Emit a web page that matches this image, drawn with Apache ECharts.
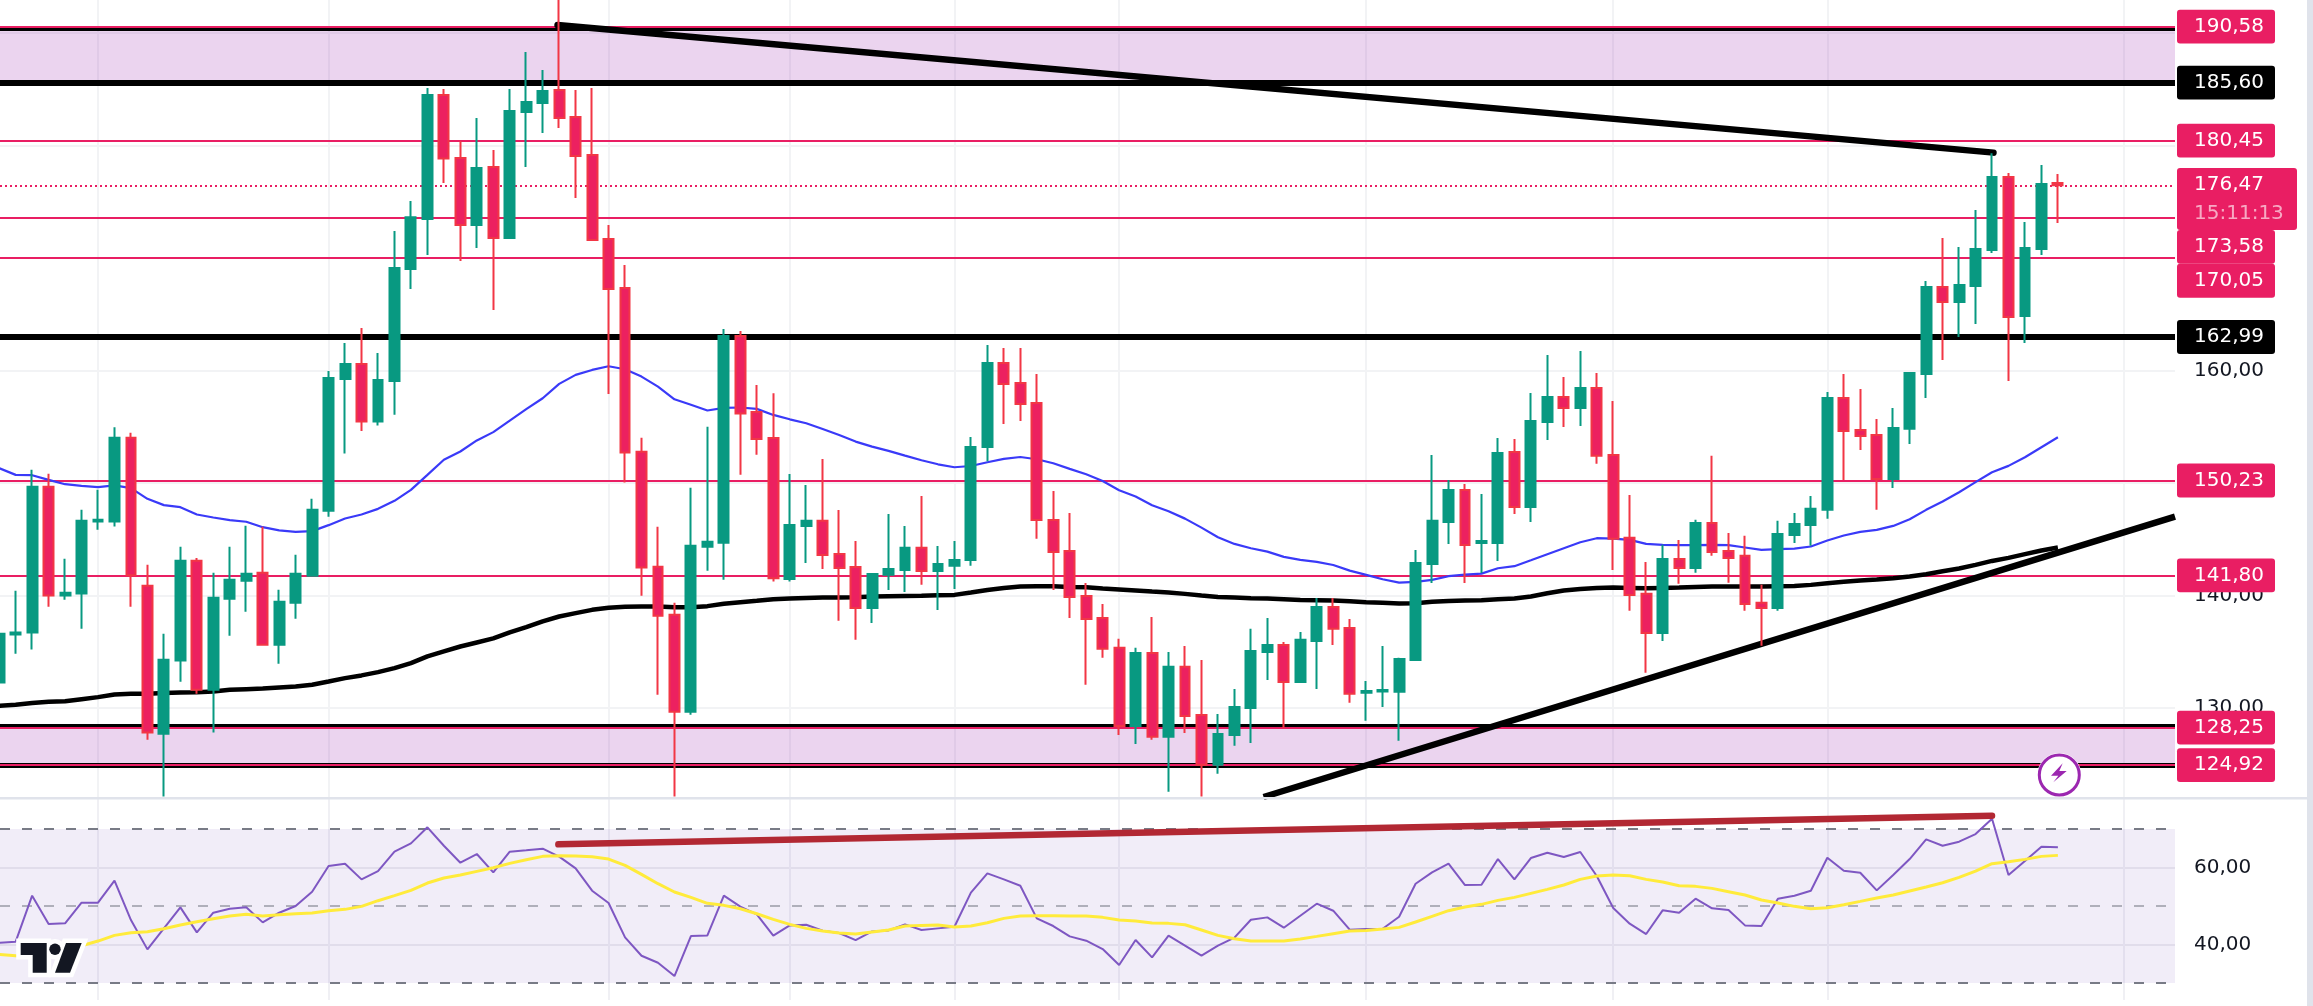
<!DOCTYPE html>
<html>
<head>
<meta charset="utf-8">
<style>html,body{margin:0;padding:0;background:#fff;overflow:hidden}#c{width:2313px;height:1006px}</style>
<script src="https://cdn.jsdelivr.net/npm/echarts@6/dist/echarts.min.js"></script>
</head>
<body>
<div id="c"></div>
<script>
const opens = [132.27,136.54,136.72,149.67,140.01,140.19,146.59,146.59,154.02,140.87,127.71,134.23,143.09,131.62,139.71,141.31,142.02,135.62,139.36,141.76,147.53,159.26,160.59,155.47,159.08,169.04,173.48,184.51,178.91,172.95,178.11,171.79,183.0,183.79,184.95,182.55,179.17,171.71,167.35,152.78,142.56,138.29,129.67,144.33,144.69,163.08,156.33,154.01,141.48,146.19,146.64,143.7,142.55,138.9,141.84,142.28,144.24,142.19,142.64,143.17,153.21,160.68,158.9,157.12,146.72,143.97,139.97,138.01,135.35,128.41,134.9,127.44,133.66,129.39,124.95,127.61,130.01,134.99,135.61,132.32,135.97,138.99,137.12,131.35,131.46,131.44,134.28,142.81,146.55,149.39,144.68,144.68,152.77,147.88,155.44,157.66,156.68,158.46,152.5,145.13,140.15,136.68,143.26,142.46,146.46,143.97,143.53,139.35,138.9,145.39,146.28,147.62,157.57,154.73,154.28,150.37,154.82,159.7,167.44,166.1,167.53,170.73,177.22,164.86,170.82,176.68];
const closes = [136.6,136.72,149.67,140.01,140.24,146.64,146.73,154.02,141.81,127.83,134.29,143.09,131.62,139.8,141.4,141.93,135.62,139.44,141.93,147.62,159.35,160.59,155.47,159.17,169.13,173.63,184.51,178.85,172.95,178.02,171.79,183.08,183.88,184.86,182.46,179.08,171.62,167.26,152.72,142.5,138.2,129.67,144.42,144.78,163.08,156.19,153.93,141.54,146.28,146.64,143.61,142.46,138.9,141.92,142.37,144.24,142.19,142.81,143.17,153.21,160.68,158.81,157.04,146.72,143.88,139.88,137.92,135.26,128.41,134.9,127.44,133.66,129.3,124.95,127.7,130.1,135.08,135.61,132.32,136.06,138.99,137.04,131.26,131.52,131.61,134.37,142.9,146.64,149.39,144.5,144.86,152.68,147.88,155.52,157.66,156.68,158.46,152.42,145.04,140.06,136.68,143.26,142.46,146.46,143.88,143.35,139.26,138.9,145.48,146.37,147.71,157.57,154.64,154.19,150.37,154.9,159.79,167.44,166.1,167.62,170.82,177.22,164.77,170.9,176.59,176.47];
const lows = [131.8,134.82,135.21,139.0,139.62,137.04,145.84,146.14,139.0,127.18,122.14,132.33,131.27,127.83,136.42,138.56,135.62,133.93,137.93,141.76,147.0,152.63,154.64,155.12,156.07,167.26,170.28,176.68,169.75,170.9,165.39,171.71,178.11,181.13,181.57,175.35,171.62,157.93,150.05,139.98,131.18,122.14,129.4,142.2,141.4,150.73,152.51,141.24,141.24,142.9,142.37,137.75,136.06,137.57,140.5,140.32,140.95,138.72,140.59,142.64,151.94,155.26,155.52,145.04,140.5,138.01,132.06,134.46,127.61,126.81,127.17,122.55,127.79,122.13,124.15,126.64,126.9,132.5,128.21,132.32,131.7,135.61,130.46,128.86,130.1,127.08,134.28,141.12,144.59,141.12,142.0,143.08,147.26,146.55,153.84,154.99,155.08,151.71,142.28,138.64,133.13,135.97,141.04,142.02,143.53,141.13,138.64,135.53,138.64,144.68,144.42,146.82,150.28,152.95,147.62,149.57,153.48,157.57,160.95,162.99,164.15,170.46,159.08,162.46,170.28,173.13];
const highs = [137.5,140.42,151.18,150.82,143.27,147.62,149.4,154.97,154.47,142.73,136.6,144.33,143.33,142.02,144.33,146.2,146.11,140.51,143.62,148.6,159.97,162.46,163.79,161.57,172.42,175.08,185.13,185.04,180.42,182.46,179.62,185.04,188.33,186.73,192.95,184.95,185.13,172.95,169.39,154.02,146.11,139.36,149.58,155.0,163.7,163.53,158.73,157.98,150.81,149.84,152.15,147.61,144.86,142.01,147.26,146.19,148.86,144.41,144.86,154.1,162.28,162.01,162.01,159.7,149.3,147.35,141.12,139.26,136.15,135.35,138.1,134.99,135.52,134.28,129.48,131.7,137.04,138.01,135.88,136.77,139.79,139.79,137.92,132.41,135.52,134.46,144.06,152.5,150.28,149.92,149.04,154.01,153.92,158.01,161.39,159.44,161.75,159.79,157.3,148.95,142.99,144.51,144.95,146.73,152.42,145.57,145.31,140.95,146.64,147.35,148.86,158.1,159.7,158.37,155.7,156.68,159.88,167.97,171.79,170.99,174.28,179.32,177.57,173.22,178.28,177.48];
const ma50 = [151.33,150.73,150.7,150.29,149.9,149.76,149.64,149.79,149.55,148.6,148.04,147.86,147.21,146.94,146.7,146.56,146.08,145.79,145.67,145.73,146.26,146.85,147.21,147.71,148.42,149.4,150.73,152.07,152.81,153.79,154.53,155.56,156.57,157.54,158.82,159.62,160.06,160.39,160.12,159.47,158.58,157.45,156.96,156.45,156.69,156.72,156.6,156.06,155.67,155.32,154.81,154.28,153.69,153.24,152.86,152.44,152.03,151.67,151.41,151.52,151.85,152.15,152.32,152.12,151.76,151.26,150.78,150.19,149.36,148.8,148.03,147.5,146.84,146.04,145.18,144.59,144.21,143.91,143.44,143.17,142.99,142.72,142.22,141.84,141.45,141.15,141.21,141.39,141.72,141.86,141.95,142.43,142.61,143.14,143.68,144.21,144.74,145.1,145.07,144.95,144.59,144.51,144.48,144.48,144.51,144.48,144.27,144.06,144.12,144.18,144.36,144.89,145.34,145.66,145.84,146.19,146.79,147.62,148.36,149.19,150.08,150.96,151.53,152.3,153.19,154.07];
const ma200 = [130.2,130.29,130.44,130.56,130.61,130.79,130.97,131.21,131.27,131.27,131.33,131.39,131.41,131.47,131.62,131.68,131.74,131.83,131.92,132.07,132.36,132.66,132.9,133.19,133.55,134.0,134.59,135.03,135.47,135.83,136.19,136.72,137.19,137.7,138.14,138.44,138.73,138.91,139.0,139.03,139.03,138.97,138.97,139.06,139.27,139.41,139.53,139.67,139.73,139.79,139.82,139.82,139.85,139.91,139.94,139.97,139.99,140.03,140.06,140.27,140.5,140.68,140.8,140.83,140.83,140.77,140.74,140.62,140.53,140.44,140.35,140.27,140.15,140.0,139.88,139.82,139.76,139.73,139.67,139.61,139.58,139.55,139.49,139.41,139.35,139.29,139.32,139.44,139.52,139.55,139.58,139.67,139.73,139.91,140.2,140.45,140.59,140.68,140.71,140.68,140.65,140.68,140.71,140.77,140.8,140.8,140.8,140.8,140.83,140.86,140.95,141.1,141.22,141.33,141.42,141.54,141.69,141.9,142.16,142.4,142.73,143.08,143.35,143.68,144.0,144.27];
const rsi = [40.48,40.74,52.69,45.33,45.5,50.87,50.87,56.58,46.37,38.75,44.2,49.66,43.16,48.27,49.31,49.66,45.76,48.27,50.0,53.73,60.39,61.0,56.93,59.09,64.12,66.28,70.44,65.67,61.26,63.51,58.75,64.12,64.46,64.89,62.82,59.79,53.99,50.78,41.86,37.1,35.28,31.82,42.21,42.38,52.69,49.83,47.84,42.3,44.98,45.15,43.6,42.99,41.17,43.42,43.68,45.24,43.77,44.2,44.63,53.47,58.49,56.93,55.28,46.8,44.81,42.12,41.0,38.83,34.68,41.17,36.67,42.3,39.7,37.1,39.7,41.78,46.45,47.06,44.38,47.49,50.61,48.79,43.86,44.03,44.12,47.23,55.8,58.75,61.0,55.46,55.54,62.21,56.93,62.47,63.86,62.73,64.03,57.79,49.48,45.41,42.73,48.88,48.27,51.91,49.4,48.96,44.98,44.81,51.91,52.69,53.99,62.56,59.18,58.66,54.07,58.05,62.21,67.32,65.67,66.71,68.7,72.69,58.05,61.69,65.41,65.24];
const rsiMa = [37.45,37.1,37.1,37.28,39.01,39.7,40.91,42.38,43.08,43.34,44.12,45.07,45.93,46.71,47.41,47.84,47.41,47.75,48.01,48.18,48.79,49.14,49.92,51.39,52.69,54.07,55.98,57.28,58.05,59.01,59.96,61.08,62.04,62.9,63.08,62.99,62.82,62.21,60.57,58.23,55.8,53.64,52.25,50.7,50.18,49.31,48.01,46.54,45.24,44.2,43.51,42.99,42.73,43.25,43.77,44.81,44.98,45.07,44.55,44.81,45.67,46.8,47.41,47.49,47.49,47.41,47.41,47.06,46.37,46.11,45.59,45.5,45.15,43.77,42.38,41.52,40.91,40.91,40.91,41.43,42.12,42.82,43.51,43.68,44.03,44.46,45.85,47.32,48.79,49.74,50.44,51.47,52.25,53.29,54.33,55.46,56.93,57.79,58.05,57.88,56.93,56.24,55.28,55.11,54.59,53.73,52.86,51.56,50.78,49.92,49.31,49.57,50.35,51.21,52.08,52.86,53.9,54.94,56.06,57.45,59.09,61.0,61.52,62.12,62.9,63.16];
const xIndex = opens.map((_, i) => i);

const pinkLevels = [190.58, 180.45, 173.58, 170.05, 150.23, 141.80, 128.25, 124.92];
const blackLevels = [185.60, 162.99];
const lastPrice = 176.47;
const countdown = '15:11:13';
const zones = [[190.37, 185.60], [128.45, 124.85]];
const zoneEdges = [190.37, 128.45, 124.92];
const priceTicks = [130, 140, 150, 160, 170, 180, 190];
const priceTickLabels = [130, 140, 160];
const rsiTicks = [40, 60];
const rsiBands = [70, 50, 30];
const timeGrid = [6, 20, 37, 48, 58, 68, 83, 98, 111, 129];
const fallingTrend = [[33.9, 190.73], [121.09, 179.38]];
const risingTrend = [[76.77, 122.09], [132.11, 147.02]];
const rsiTrend = [[33.95, 66.03], [121, 73.45]];
/* price tag: value shown, price height the tag is centred on, fill */
const tagValues = [190.58, 185.60, 180.45, 173.58, 170.05, 162.99, 150.23, 141.80, 128.25, 124.92];
const tagAnchors = [190.58, 185.60, 180.45, 171.0, 167.99, 162.99, 150.23, 141.80, 128.25, 124.92];
const tagColors = ['p','k','p','p','p','k','p','p','p','p'];

const PINK = '#E91E63', BLACK = '#000000', FONT = '"DejaVu Sans", sans-serif';
const fmt = v => v.toFixed(2).replace('.', ',');
const X_MIN = 0.0486, X_MAX = 132.11;
const hidden = { show: false };
const xAxisBase = { type: 'value', min: X_MIN, max: X_MAX, axisLine: hidden, axisTick: hidden, axisLabel: hidden, splitLine: hidden };
const vLines = timeGrid.map(x => ({ xAxis: x }));

function marker(data, z) {
  return { silent: true, symbol: 'none', animation: false, z, label: hidden, data };
}
function blankSeries(name, xi, extra) {
  return Object.assign({ name, type: 'line', xAxisIndex: xi, yAxisIndex: xi, data: [], showSymbol: false, animation: false, silent: true }, extra);
}

const option = {
  animation: false,
  backgroundColor: '#ffffff',
  grid: [
    { left: 0, top: 0, width: 2175, height: 797 },
    { left: 0, top: 799, width: 2175, height: 201 }
  ],
  xAxis: [Object.assign({ gridIndex: 0 }, xAxisBase), Object.assign({ gridIndex: 1 }, xAxisBase)],
  yAxis: [
    { gridIndex: 0, type: 'value', position: 'right', min: 122.09, max: 192.95,
      axisLine: hidden,
      axisTick: { show: false, customValues: priceTicks },
      axisLabel: { customValues: priceTickLabels, margin: 19, color: '#131722', fontFamily: FONT, fontSize: 20, formatter: v => fmt(v) },
      splitLine: { show: true, lineStyle: { color: '#F2F3F5', width: 2 } } },
    { gridIndex: 1, type: 'value', position: 'right', min: 25.6, max: 77.8,
      axisLine: hidden,
      axisTick: { show: false, customValues: rsiTicks },
      axisLabel: { customValues: rsiTicks, margin: 19, color: '#131722', fontFamily: FONT, fontSize: 20, formatter: v => fmt(v) },
      splitLine: { show: true, lineStyle: { color: '#EDEDF1', width: 2 } } }
  ],
  series: [
    blankSeries('timeGridTop', 0, { z: 0, markLine: Object.assign(marker(vLines, 0), { lineStyle: { color: '#F2F3F5', width: 2, type: 'solid' } }) }),
    blankSeries('timeGridBottom', 1, { z: 0, markLine: Object.assign(marker(vLines, 0), { lineStyle: { color: '#F0F0F4', width: 2, type: 'solid' } }) }),
    blankSeries('zones', 0, { z: 1, markArea: { silent: true, z: 1, animation: false, label: hidden,
      itemStyle: { color: 'rgba(156,39,176,0.2)' },
      data: zones.map(z => [{ yAxis: z[0] }, { yAxis: z[1] }]) } }),
    blankSeries('levels', 0, { z: 3, markLine: marker(
      zoneEdges.map((v, i) => ({ yAxis: v, lineStyle: { color: BLACK, width: i === 2 ? 5 : 3, type: 'solid' } }))
        .concat(blackLevels.map(v => ({ yAxis: v, lineStyle: { color: BLACK, width: 6, type: 'solid' } })))
        .concat(pinkLevels.map(v => ({ yAxis: v, lineStyle: { color: PINK, width: 2, type: 'solid' } })))
        .concat([{ yAxis: lastPrice, lineStyle: { color: PINK, width: 2, type: [2, 3] } }]), 3) }),
    { name: 'MA50', type: 'line', xAxisIndex: 0, yAxisIndex: 0, z: 6, showSymbol: false, symbol: 'none', silent: true, animation: false,
      data: xIndex.map(i => [i, ma50[i]]), lineStyle: { color: '#3A3AF8', width: 2.2 } },
    { name: 'MA200', type: 'line', xAxisIndex: 0, yAxisIndex: 0, z: 6, showSymbol: false, symbol: 'none', silent: true, animation: false,
      data: xIndex.map(i => [i, ma200[i]]), lineStyle: { color: '#000000', width: 4.5 } },
    { name: 'Falling', type: 'line', xAxisIndex: 0, yAxisIndex: 0, z: 7, showSymbol: false, symbol: 'none', silent: true, animation: false,
      data: fallingTrend, lineStyle: { color: '#000000', width: 6.5, cap: 'round' } },
    { name: 'Rising', type: 'line', xAxisIndex: 0, yAxisIndex: 0, z: 7, showSymbol: false, symbol: 'none', silent: true, animation: false,
      data: risingTrend, lineStyle: { color: '#000000', width: 6.5 } },
    { name: 'Price', type: 'candlestick', xAxisIndex: 0, yAxisIndex: 0, z: 20, barWidth: 10.4, silent: true, animation: false,
      data: xIndex.map(i => [i, opens[i], closes[i], lows[i], highs[i]]),
      itemStyle: { color: '#089981', color0: '#EC2160', borderColor: '#089981', borderColor0: '#F23645', borderWidth: 2 } },
    { name: 'Tags', type: 'custom', xAxisIndex: 0, yAxisIndex: 0, z: 30, silent: true, animation: false, clip: false,
      data: tagAnchors.map(v => [X_MIN, v]),
      renderItem(params, api) {
        const i = params.dataIndex, y = api.coord([X_MIN, api.value(1)])[1];
        return { type: 'group', children: [
          { type: 'rect', shape: { x: 2177, y: y - 16.9, width: 98, height: 33.8, r: 3 }, style: { fill: tagColors[i] === 'k' ? BLACK : PINK } },
          { type: 'text', style: { x: 2194, y, text: fmt(tagValues[i]), fill: '#ffffff', font: '20px ' + FONT, textVerticalAlign: 'middle', textAlign: 'left' } }
        ] };
      } },
    { name: 'LastTag', type: 'custom', xAxisIndex: 0, yAxisIndex: 0, z: 31, silent: true, animation: false, clip: false,
      data: [[X_MIN, lastPrice]],
      renderItem(params, api) {
        const y = api.coord([X_MIN, api.value(1)])[1];
        return { type: 'group', children: [
          { type: 'rect', shape: { x: 2177, y: y - 17.4, width: 120, height: 62, r: 3 }, style: { fill: PINK } },
          { type: 'text', style: { x: 2194, y: y - 1, text: fmt(lastPrice), fill: '#ffffff', font: '20px ' + FONT, textVerticalAlign: 'middle' } },
          { type: 'text', style: { x: 2194, y: y + 28, text: countdown, fill: 'rgba(255,255,255,0.62)', font: '20px ' + FONT, textVerticalAlign: 'middle' } }
        ] };
      } },
    blankSeries('rsiBand', 1, { z: 1, markArea: { silent: true, z: 1, animation: false, label: hidden,
      itemStyle: { color: 'rgba(126,87,194,0.11)' }, data: [[{ yAxis: 70 }, { yAxis: 30 }]] } }),
    blankSeries('rsiLevels', 1, { z: 3, markLine: marker(rsiBands.map(v => ({ yAxis: v, lineStyle: { color: v === 50 ? 'rgba(120,123,134,0.55)' : '#787B86', width: 2, type: [10, 12] } })), 3) }),
    { name: 'RSI', type: 'line', xAxisIndex: 1, yAxisIndex: 1, z: 6, showSymbol: false, symbol: 'none', silent: true, animation: false,
      data: xIndex.map(i => [i, rsi[i]]), lineStyle: { color: '#7E57C2', width: 2 } },
    { name: 'RSI MA', type: 'line', xAxisIndex: 1, yAxisIndex: 1, z: 7, showSymbol: false, symbol: 'none', silent: true, animation: false,
      data: xIndex.map(i => [i, rsiMa[i]]), lineStyle: { color: '#FFEB3B', width: 3 } },
    { name: 'RSI Trend', type: 'line', xAxisIndex: 1, yAxisIndex: 1, z: 8, showSymbol: false, symbol: 'none', silent: true, animation: false, clip: false,
      data: rsiTrend, lineStyle: { color: '#B22833', width: 6.5, cap: 'round' } }
  ],
  graphic: { elements: [
    { type: 'rect', silent: true, z: 90, shape: { x: 0, y: 797, width: 2307, height: 2.5 }, style: { fill: '#E0E3EB' } },
    { type: 'rect', silent: true, z: 90, shape: { x: 2307, y: 0, width: 6, height: 1006 }, style: { fill: '#E0E3EB' } },
    { type: 'group', silent: true, z: 95, children: [
      { type: 'polygon', z: 95, shape: { points: [[20.7,943],[46.7,943],[46.7,972.7],[32.7,972.7],[32.7,955],[20.7,955]] }, style: { fill: '#131722', stroke: '#ffffff', lineWidth: 9, lineJoin: 'miter' } },
      { type: 'circle', z: 95, shape: { cx: 55, cy: 949.3, r: 5.7 }, style: { fill: '#131722', stroke: '#ffffff', lineWidth: 9 } },
      { type: 'polygon', z: 95, shape: { points: [[66,943],[81.7,943],[70,972.7],[55,972.7]] }, style: { fill: '#131722', stroke: '#ffffff', lineWidth: 9 } },
      { type: 'polygon', z: 96, shape: { points: [[20.7,943],[46.7,943],[46.7,972.7],[32.7,972.7],[32.7,955],[20.7,955]] }, style: { fill: '#131722' } },
      { type: 'circle', z: 96, shape: { cx: 55, cy: 949.3, r: 5.7 }, style: { fill: '#131722' } },
      { type: 'polygon', z: 96, shape: { points: [[66,943],[81.7,943],[70,972.7],[55,972.7]] }, style: { fill: '#131722' } }
    ] },
    { type: 'circle', silent: true, z: 95, shape: { cx: 2059.3, cy: 775, r: 21 }, style: { fill: '#ffffff', stroke: '#ffffff', lineWidth: 2 } },
    { type: 'circle', silent: true, z: 96, shape: { cx: 2059.3, cy: 775, r: 20 }, style: { fill: '#ffffff', stroke: '#9C27B0', lineWidth: 3 } },
    { type: 'polygon', silent: true, z: 97, shape: { points: [[2062.7,763.3],[2051,775.7],[2058.3,775.7],[2053.3,782.3],[2066.7,771],[2059.3,771]] }, style: { fill: '#9C27B0' } }
  ] }
};

const chart = echarts.init(document.getElementById('c'), null, { renderer: 'canvas', width: 2313, height: 1006 });
chart.setOption(option);
</script>
</body>
</html>
